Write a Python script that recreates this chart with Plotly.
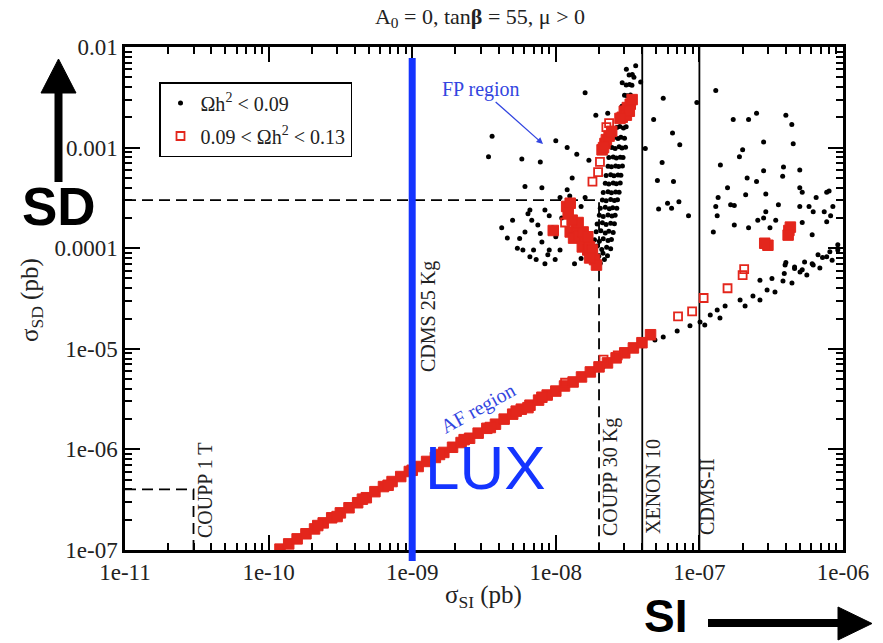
import plotly.graph_objects as go
import numpy as np

# ---------------- axis ticks ----------------
x_tickvals = [1e-11, 1e-10, 1e-9, 1e-8, 1e-7, 1e-6]
x_ticktext = ["1e-11", "1e-10", "1e-09", "1e-08", "1e-07", "1e-06"]
y_tickvals = [1e-7, 1e-6, 1e-5, 1e-4, 1e-3, 1e-2]
y_ticktext = ["1e-07", "1e-06", "1e-05", "0.0001", "0.001", "0.01"]

# ---------------- experimental limits ----------------
sd_limit = 3e-4
coupp30_si = 2e-8
coupp1t_si = 3e-11
coupp1t_sd = 4e-7
xenon10_si = 4e-8
cdms2_si = 1e-7
lux_si = 1e-9

# ---------------- black points ----------------
fp_sparse_si = [3.6e-9, 3.4e-9, 5.8e-9, 7.8e-9, 1.0e-8, 1.2e-8, 1.4e-8, 1.7e-8, 1.6e-8, 1.9e-8,
                2.3e-8, 3.1e-8, 2.9e-8, 1.3e-8, 6.1e-9, 8.0e-9, 3.6e-8, 3.5e-8, 3.9e-8]
fp_sparse_sd = [1.3e-3, 8.1e-4, 7.7e-4, 7.2e-4, 1.17e-3, 1.0e-3, 8.6e-4, 7.5e-4, 3.5e-3, 2.1e-3,
                2.2e-3, 6.0e-3, 4.4e-3, 5.0e-4, 4.1e-4, 4.0e-4, 6.5e-3, 5.0e-3, 4.5e-3]

fp_cluster_si = [4.2e-9, 4.6e-9, 5.4e-9, 6.6e-9, 8.4e-9, 9.0e-9, 6.1e-9, 6.4e-9, 6.8e-9, 7.0e-9,
                 7.8e-9, 8.0e-9, 8.4e-9, 9.0e-9, 8.8e-9, 9.9e-9, 1.07e-8, 1.07e-8, 1.2e-8, 1.25e-8,
                 1.5e-8, 1.6e-8, 1.35e-8, 1.5e-8, 6.6e-9, 7.3e-9, 5.9e-9, 5.0e-9, 5.6e-9, 9.5e-9,
                 1.0e-8, 1.1e-8, 7.5e-9]
fp_cluster_sd = [1.6e-4, 1.26e-4, 1.0e-4, 2.4e-4, 7.0e-5, 9.6e-5, 1.45e-4, 2.2e-4, 1.9e-4, 9.6e-5,
                 1.4e-4, 1.15e-4, 2.4e-4, 2.1e-4, 8.6e-5, 7.7e-5, 9.6e-5, 3.2e-4, 3.8e-4, 3.3e-4,
                 2.6e-4, 3.2e-4, 7.0e-5, 7.9e-5, 8.2e-5, 7.7e-5, 9.6e-5, 1.9e-4, 1.25e-4, 1.6e-4,
                 1.3e-4, 2.0e-4, 1.7e-4]

fp_band_si = [1.90e-8, 2.04e-8, 2.18e-8,
              1.84e-8, 1.99e-8, 2.13e-8, 2.29e-8,
              1.79e-8, 1.94e-8, 2.09e-8, 2.26e-8, 2.41e-8,
              1.86e-8, 2.01e-8, 2.14e-8, 2.31e-8, 2.44e-8,
              1.91e-8, 2.06e-8, 2.21e-8, 2.34e-8, 2.51e-8,
              1.94e-8, 2.11e-8, 2.24e-8, 2.41e-8, 2.56e-8,
              2.01e-8, 2.14e-8, 2.31e-8, 2.46e-8, 2.59e-8,
              2.04e-8, 2.21e-8, 2.36e-8, 2.49e-8, 2.66e-8,
              2.11e-8, 2.24e-8, 2.41e-8, 2.56e-8, 2.69e-8,
              2.14e-8, 2.31e-8, 2.44e-8, 2.61e-8, 2.76e-8,
              2.21e-8, 2.34e-8, 2.51e-8, 2.64e-8, 2.81e-8,
              2.24e-8, 2.41e-8, 2.54e-8, 2.71e-8, 2.84e-8,
              2.31e-8, 2.44e-8, 2.61e-8, 2.74e-8, 2.91e-8,
              2.34e-8, 2.51e-8, 2.64e-8, 2.81e-8, 2.94e-8,
              2.46e-8, 2.59e-8, 2.76e-8, 2.89e-8, 3.06e-8,
              2.54e-8, 2.71e-8, 2.84e-8, 3.01e-8,
              2.66e-8, 2.79e-8, 2.96e-8, 3.09e-8,
              2.74e-8, 2.91e-8, 3.04e-8, 3.21e-8,
              2.89e-8, 3.06e-8, 3.19e-8,
              3.01e-8, 3.14e-8, 3.31e-8,
              3.09e-8, 3.26e-8, 3.39e-8,
              3.24e-8, 3.41e-8]
fp_band_sd = [7.4e-5, 7.1e-5, 7.7e-5,
              8.7e-5, 8.3e-5, 8.9e-5, 8.4e-5,
              1.01e-4, 1.05e-4, 0.97e-4, 1.02e-4, 0.99e-4,
              1.21e-4, 1.17e-4, 1.24e-4, 1.19e-4, 1.22e-4,
              1.46e-4, 1.49e-4, 1.42e-4, 1.47e-4, 1.43e-4,
              1.74e-4, 1.79e-4, 1.72e-4, 1.77e-4, 1.75e-4,
              2.12e-4, 2.07e-4, 2.14e-4, 2.09e-4, 2.13e-4,
              2.49e-4, 2.55e-4, 2.47e-4, 2.53e-4, 2.50e-4,
              3.02e-4, 2.96e-4, 3.05e-4, 2.98e-4, 3.03e-4,
              3.58e-4, 3.64e-4, 3.55e-4, 3.62e-4, 3.59e-4,
              4.42e-4, 4.35e-4, 4.46e-4, 4.38e-4, 4.44e-4,
              5.28e-4, 5.36e-4, 5.24e-4, 5.33e-4, 5.30e-4,
              6.52e-4, 6.44e-4, 6.58e-4, 6.47e-4, 6.55e-4,
              7.95e-4, 8.08e-4, 7.90e-4, 8.04e-4, 7.98e-4,
              1.00e-3, 0.98e-3, 1.02e-3, 0.99e-3, 1.01e-3,
              1.26e-3, 1.23e-3, 1.27e-3, 1.24e-3,
              1.58e-3, 1.62e-3, 1.57e-3, 1.61e-3,
              2.02e-3, 1.97e-3, 2.03e-3, 1.99e-3,
              2.58e-3, 2.63e-3, 2.57e-3,
              3.32e-3, 3.27e-3, 3.34e-3,
              4.18e-3, 4.24e-3, 4.16e-3,
              5.27e-3, 5.34e-3]

mid_si = [5.6e-8, 9.6e-8, 4.8e-8, 6.5e-8, 7.3e-8, 4.2e-8, 5.5e-8, 5.1e-8, 6.6e-8, 5.2e-8,
          6.0e-8, 6.4e-8, 7.2e-8, 8.4e-8]
mid_sd = [3.1e-3, 2.8e-3, 1.9e-3, 1.4e-3, 1.07e-3, 9.8e-4, 7.1e-4, 4.7e-4, 4.6e-4, 2.45e-4,
          2.8e-4, 2.5e-4, 2.9e-4, 2.1e-4]

right_si = [1.3e-7, 1.72e-7, 2.2e-7, 2.5e-7, 4.0e-7, 4.4e-7, 2.8e-7, 4.5e-7, 2.0e-7, 1.9e-7,
            1.4e-7, 2.8e-7, 3.85e-7, 3.8e-7, 5.0e-7, 2.15e-7, 2.5e-7, 1.57e-7, 1.35e-7, 2.1e-7,
            2.9e-7, 5.0e-7, 5.2e-7, 6.5e-7, 7.7e-7, 1.3e-7, 1.65e-7, 1.75e-7, 1.33e-7, 3.55e-7,
            2.9e-7, 5.0e-7, 5.8e-7, 6.2e-7, 7.4e-7, 8.5e-7, 2.55e-7, 2.8e-7, 3.1e-7, 3.4e-7,
            1.75e-7, 2.2e-7, 1.25e-7, 5.2e-7, 6.1e-7, 7.7e-7, 4.0e-7, 4.6e-7, 5.2e-7, 6.1e-7,
            7.2e-7, 3.2e-7, 3.9e-7, 8.2e-7, 8.0e-7]
right_sd = [3.7e-3, 1.9e-3, 1.9e-3, 2.2e-3, 2.1e-3, 1.7e-3, 1.14e-3, 1.09e-3, 9.5e-4, 8.1e-4,
            6.7e-4, 5.9e-4, 6.4e-4, 5.2e-4, 6.0e-4, 5.0e-4, 4.6e-4, 4.0e-4, 3.2e-4, 3.4e-4,
            3.45e-4, 4.0e-4, 3.6e-4, 3.2e-4, 3.6e-4, 2.6e-4, 2.7e-4, 2.65e-4, 2.1e-4, 2.7e-4,
            2.3e-4, 2.6e-4, 2.6e-4, 2.3e-4, 2.3e-4, 2.6e-4, 1.9e-4, 2.0e-4, 1.6e-4, 1.9e-4,
            1.7e-4, 1.6e-4, 1.45e-4, 1.8e-4, 1.36e-4, 1.83e-4, 7.2e-5, 6.5e-5, 6.1e-5, 7.0e-5,
            8.1e-5, 5.0e-5, 5.6e-5, 2.1e-4, 3.7e-4]

af_black_si = [1.02e-8, 1.9e-8, 2.13e-8, 2.58e-8, 3.18e-8, 4.05e-8, 4.9e-8, 5.6e-8, 7.0e-8, 8.6e-8,
               1.01e-7, 1.09e-7, 1.19e-7, 1.33e-7, 1.39e-7, 1.51e-7, 1.92e-7, 2.08e-7, 2.36e-7, 2.64e-7,
               2.96e-7, 3.36e-7, 3.82e-7, 4.41e-7, 5.02e-7, 5.6e-7, 6.2e-7, 6.9e-7, 7.7e-7, 8.4e-7,
               9.2e-7, 2.64e-7, 3.95e-7, 4.6e-7, 5.4e-7, 6.7e-7, 8.1e-7, 9.2e-7]
af_black_sd = [3.8e-6, 6.2e-6, 6.6e-6, 8.1e-6, 9.7e-6, 1.07e-5, 1.22e-5, 1.31e-5, 1.5e-5, 1.69e-5,
               1.85e-5, 1.72e-5, 2.17e-5, 2.43e-5, 2.02e-5, 2.66e-5, 3.05e-5, 2.66e-5, 3.35e-5, 3.05e-5,
               3.84e-5, 3.67e-5, 4.72e-5, 4.5e-5, 5.8e-5, 5.4e-5, 6.8e-5, 6.35e-5, 8.2e-5, 7.6e-5,
               9.6e-5, 4.8e-5, 6.8e-5, 6.3e-5, 7.3e-5, 8.6e-5, 9.2e-5, 1.08e-4]

# ---------------- red points ----------------
red_open_si = [1.8e-8, 1.97e-8, 2.03e-8, 2.25e-8, 2.35e-8, 1.16e-8, 1.16e-8, 2.15e-8, 2.7e-8, 7.1e-8,
               8.9e-8, 1.07e-7, 1.57e-7, 2.0e-7, 2.05e-7]
red_open_sd = [4.6e-4, 5.7e-4, 7.2e-4, 1.6e-3, 1.75e-3, 1.8e-4, 4.6e-6, 7.8e-6, 8.6e-6, 2.1e-5,
               2.35e-5, 3.2e-5, 4.0e-5, 5.4e-5, 6.2e-5]

red_af_si = [1.20e-10, 1.38e-10, 1.58e-10, 1.82e-10, 2.09e-10, 2.40e-10, 2.75e-10, 3.16e-10, 3.63e-10, 4.17e-10,
             4.79e-10, 5.50e-10, 6.31e-10, 7.24e-10, 8.32e-10, 9.55e-10, 1.10e-9, 1.26e-9, 1.45e-9, 1.66e-9,
             1.91e-9, 2.19e-9, 2.51e-9, 2.88e-9, 3.31e-9, 3.80e-9, 4.37e-9, 5.01e-9, 5.75e-9, 6.61e-9,
             7.59e-9, 8.71e-9, 1.00e-8, 1.15e-8, 1.32e-8, 1.51e-8, 1.74e-8, 2.00e-8, 2.29e-8, 2.63e-8,
             3.02e-8, 3.47e-8, 3.98e-8, 4.57e-8,
             2.2e-10, 3.0e-10, 4.5e-10, 6.8e-10, 1.0e-9, 1.55e-9, 2.3e-9, 3.5e-9, 5.3e-9, 6.4e-9, 8.0e-9]
red_af_sd = [1.02e-7, 1.15e-7, 1.29e-7, 1.45e-7, 1.62e-7, 1.86e-7, 2.09e-7, 2.34e-7, 2.63e-7, 2.95e-7,
             3.31e-7, 3.80e-7, 4.27e-7, 4.79e-7, 5.37e-7, 6.03e-7, 6.76e-7, 7.59e-7, 8.32e-7, 9.33e-7,
             1.05e-6, 1.17e-6, 1.29e-6, 1.45e-6, 1.62e-6, 1.78e-6, 2.00e-6, 2.24e-6, 2.51e-6, 2.75e-6,
             3.09e-6, 3.47e-6, 3.80e-6, 4.27e-6, 4.68e-6, 5.25e-6, 5.89e-6, 6.61e-6, 7.24e-6, 8.13e-6,
             9.12e-6, 1.02e-5, 1.15e-5, 1.38e-5,
             1.75e-7, 2.15e-7, 3.2e-7, 4.4e-7, 6.2e-7, 8.9e-7, 1.25e-6, 1.65e-6, 2.4e-6, 2.6e-6, 3.3e-6]

red_fp_si = [2.9e-8, 3.0e-8, 3.15e-8, 3.3e-8, 3.4e-8, 3.1e-8, 3.25e-8, 2.8e-8,
             2.1e-8, 2.2e-8, 2.25e-8, 2.35e-8, 2.45e-8, 2.15e-8,
             1.19e-8, 1.26e-8, 9.6e-9, 1.26e-8, 1.4e-8, 1.33e-8, 1.45e-8, 1.6e-8, 1.53e-8, 1.67e-8,
             1.78e-8, 1.86e-8, 1.92e-8, 1.72e-8, 1.55e-8, 1.67e-8, 1.43e-8, 1.3e-8, 1.22e-8, 1.8e-8,
             1.72e-8,
             3.0e-7, 2.85e-7, 4.2e-7, 4.3e-7, 4.15e-7]
red_fp_sd = [2.0e-3, 2.3e-3, 2.5e-3, 2.7e-3, 3.0e-3, 2.1e-3, 2.3e-3, 1.95e-3,
             9.5e-4, 1.1e-3, 1.2e-3, 1.3e-3, 1.45e-3, 1.0e-3,
             2.6e-4, 2.8e-4, 1.5e-4, 1.45e-4, 1.5e-4, 1.26e-4, 1.3e-4, 1.15e-4, 1.03e-4, 9.6e-5,
             8.6e-5, 7.7e-5, 6.8e-5, 1.03e-4, 1.45e-4, 1.3e-4, 1.8e-4, 1.9e-4, 2.2e-4, 9.6e-5,
             8.0e-5,
             1.07e-4, 1.12e-4, 1.5e-4, 1.62e-4, 1.35e-4]

# ---------------- styling ----------------
SERIF = "Liberation Serif, Times New Roman, serif"
SANS = "Liberation Sans, Arial, sans-serif"
TXT = "#222222"
RED = "#E3261C"
BLUE = "#1434FF"
LBLUE = "#3346E0"

W, H = 883, 643
L, R, T, B = 125, 40, 47, 93
PW, PH = W - L - R, H - T - B
XLOG = (-11, -6)


def px(xp):
    return (xp - L) / PW


def py(yp):
    return (H - B - yp) / PH


black_si = fp_sparse_si + fp_cluster_si + fp_band_si + mid_si + right_si + af_black_si
black_sd = fp_sparse_sd + fp_cluster_sd + fp_band_sd + mid_sd + right_sd + af_black_sd

fig = go.Figure()

line_style = dict(color="black", width=1.8)
fig.add_trace(go.Scatter(x=[1e-11, coupp30_si, coupp30_si], y=[sd_limit, sd_limit, 1e-7],
                         mode="lines", line=dict(color="black", width=1.8, dash="11px,6px"),
                         showlegend=False, hoverinfo="skip"))
fig.add_trace(go.Scatter(x=[1e-11, coupp1t_si, coupp1t_si], y=[coupp1t_sd, coupp1t_sd, 1e-7],
                         mode="lines", line=dict(color="black", width=1.8, dash="11px,6px"),
                         showlegend=False, hoverinfo="skip"))
for xv in (xenon10_si, cdms2_si):
    fig.add_trace(go.Scatter(x=[xv, xv], y=[1e-7, 1e-2], mode="lines", line=line_style,
                             showlegend=False, hoverinfo="skip"))

fig.add_trace(go.Scatter(x=black_si, y=black_sd, mode="markers", name="Ωh<sup>2</sup> < 0.09",
                         legendgroup="a",
                         marker=dict(symbol="circle", size=5, color="black")))
fig.add_trace(go.Scatter(x=red_af_si + red_fp_si, y=red_af_sd + red_fp_sd, mode="markers",
                         legendgroup="b", showlegend=False,
                         marker=dict(symbol="square", size=10.5, color=RED,
                                     line=dict(color=RED, width=1))))
fig.add_trace(go.Scatter(x=red_open_si, y=red_open_sd, mode="markers",
                         name="0.09 < Ωh<sup>2</sup> < 0.13", legendgroup="b",
                         marker=dict(symbol="square-open", size=8, color=RED,
                                     line=dict(color=RED, width=1.8))))

tickfont = dict(family=SERIF, size=23, color=TXT)
axis_common = dict(type="log", tickmode="array", showgrid=False, zeroline=False, showline=True,
                   linecolor="black", linewidth=2.5, mirror="ticks", ticks="inside", ticklen=15,
                   tickwidth=2, tickcolor="black", tickfont=tickfont)
fig.update_xaxes(range=list(XLOG), tickvals=x_tickvals, ticktext=x_ticktext,
                 minor=dict(dtick="D1", ticks="inside", ticklen=7, tickwidth=1.5,
                            tickcolor="black", showgrid=False), **axis_common)
y_minor = [d * 10.0 ** e for e in range(-7, -2) for d in range(2, 10)]
fig.update_yaxes(range=[-7, -2], tickvals=y_tickvals, ticktext=y_ticktext,
                 minor=dict(tickmode="array", tickvals=y_minor, ticks="inside", ticklen=7,
                            tickwidth=1.5, tickcolor="black", showgrid=False), **axis_common)

C = dict(xanchor="center", yanchor="middle", showarrow=False, xref="paper", yref="paper")
ann = []
ann.append(dict(x=px(483), y=py(596), text="σ<sub>SI</sub> (pb)",
                font=dict(family=SERIF, size=25, color=TXT), **C))
ann.append(dict(x=px(31), y=py(300), text="σ<sub>SD</sub> (pb)", textangle=-90,
                font=dict(family=SERIF, size=25, color=TXT), **C))
for txt, xp, yp in [("CDMS 25 Kg", 428, 317), ("COUPP 30 Kg", 610, 477), ("XENON 10", 653, 487),
                    ("CDMS-II", 707, 497), ("COUPP 1 T", 205, 490)]:
    ann.append(dict(x=px(xp), y=py(yp), text=txt, textangle=-90,
                    font=dict(family=SERIF, size=20, color=TXT), **C))
ann.append(dict(x=px(543), y=py(144), xref="paper", yref="paper", text="FP region",
                showarrow=True, ax=-62, ay=-55, arrowhead=2, arrowsize=1, arrowwidth=1.3,
                arrowcolor=LBLUE, font=dict(family=SERIF, size=20, color=LBLUE)))
ann.append(dict(x=px(478), y=py(408), text="AF region", textangle=-29,
                font=dict(family=SERIF, size=20, color=LBLUE), **C))
ann.append(dict(x=px(485), y=py(467), text="LUX", font=dict(family=SANS, size=62, color=BLUE), **C))
ann.append(dict(x=px(58.5), y=py(206), text="<b>SD</b>", font=dict(family=SANS, size=53, color="black"), **C))
ann.append(dict(x=px(665), y=py(616), text="<b>SI</b>", font=dict(family=SANS, size=46, color="black"), **C))

lux_px = (np.log10(lux_si) - XLOG[0]) / (XLOG[1] - XLOG[0])
shapes = [
    dict(type="line", xref="paper", yref="paper", x0=lux_px, x1=lux_px, y0=py(561), y1=py(58),
         line=dict(color=BLUE, width=7), layer="above"),
    dict(type="line", xref="paper", yref="paper", x0=px(58.5), x1=px(58.5), y0=py(182), y1=py(90),
         line=dict(color="black", width=8)),
    dict(type="path", xref="paper", yref="paper",
         path=f"M {px(41)} {py(93)} L {px(76)} {py(93)} L {px(58.5)} {py(59)} Z",
         fillcolor="black", line=dict(color="black", width=1)),
    dict(type="line", xref="paper", yref="paper", x0=px(708), x1=px(842), y0=py(623), y1=py(623),
         line=dict(color="black", width=8)),
    dict(type="path", xref="paper", yref="paper",
         path=f"M {px(838)} {py(607)} L {px(838)} {py(640)} L {px(872)} {py(623.5)} Z",
         fillcolor="black", line=dict(color="black", width=1)),
]

fig.update_layout(
    width=W, height=H,
    margin=dict(l=L, r=R, t=T, b=B, pad=0),
    paper_bgcolor="white", plot_bgcolor="white",
    title=dict(text="A<sub>0</sub> = 0, tan<b>β</b> = 55, μ > 0", x=px(480), xref="paper",
               y=1 - 16 / H, yref="container", yanchor="middle", xanchor="center",
               font=dict(family=SERIF, size=22, color=TXT)),
    showlegend=True,
    legend=dict(x=px(159), y=py(82), xanchor="left", yanchor="top", bgcolor="white",
                bordercolor="black", borderwidth=1.5, tracegroupgap=4,
                font=dict(family=SERIF, size=20, color=TXT)),
    annotations=ann, shapes=shapes,
)

fig.write_html("out.html")
